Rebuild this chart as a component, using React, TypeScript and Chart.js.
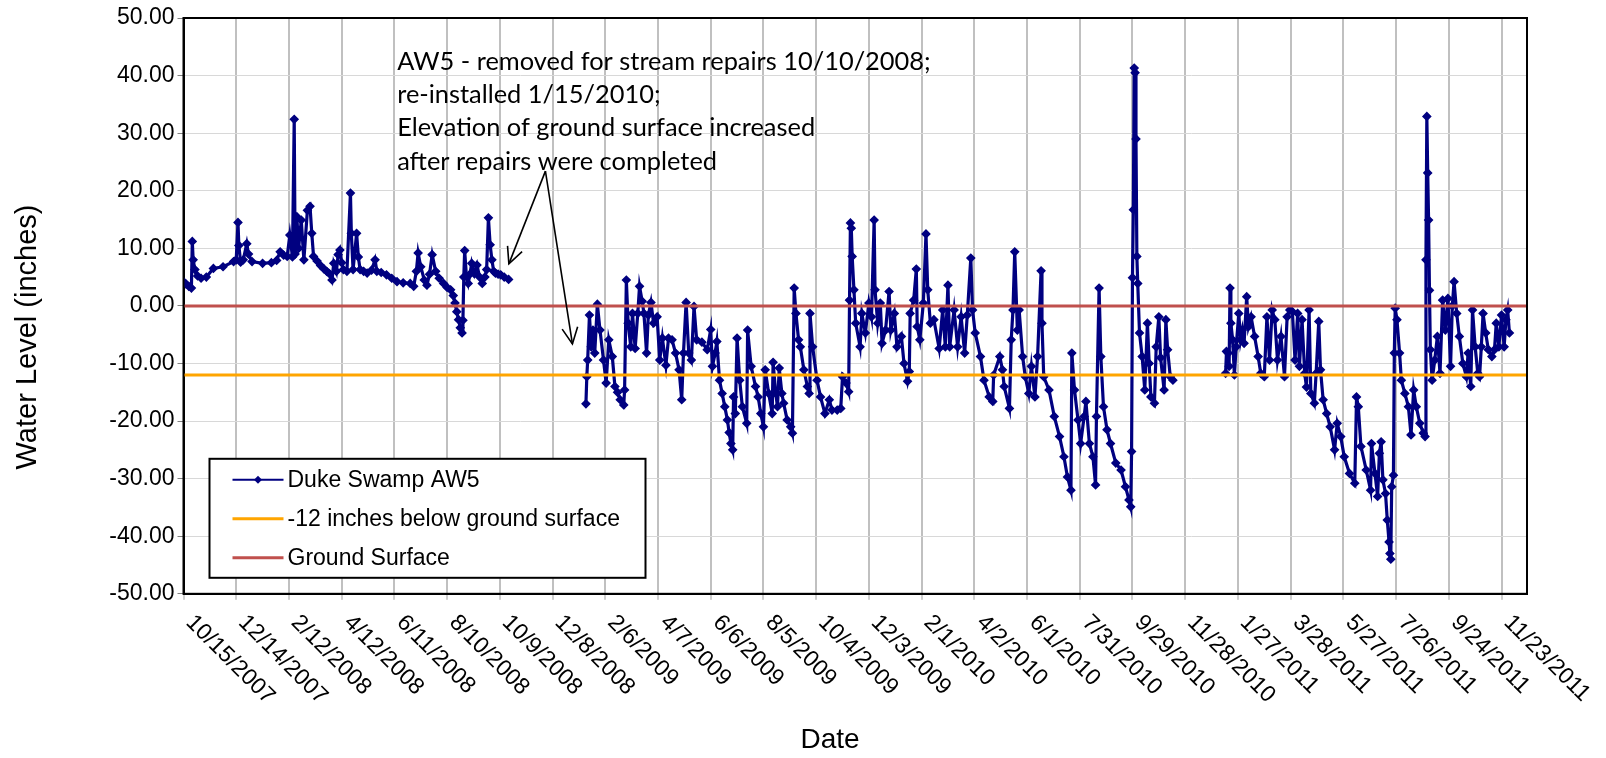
import React, { useEffect, useRef } from 'react';
import { Chart, registerables } from 'chart.js';

Chart.register(...registerables);

// x values are days since 10/15/2007
const xTickDays = [0, 60, 120, 180, 240, 300, 360, 420, 480, 540, 600, 660, 720, 780, 840, 900, 960, 1020, 1080, 1140, 1200, 1260, 1320, 1380, 1440, 1500];
const xTickLabels = [
  '10/15/2007', '12/14/2007', '2/12/2008', '4/12/2008', '6/11/2008', '8/10/2008', '10/9/2008', '12/8/2008',
  '2/6/2009', '4/7/2009', '6/6/2009', '8/5/2009', '10/4/2009', '12/3/2009', '2/1/2010', '4/2/2010', '6/1/2010',
  '7/31/2010', '9/29/2010', '11/28/2010', '1/27/2011', '3/28/2011', '5/27/2011', '7/26/2011', '9/24/2011', '11/23/2011',
];
const xMinDay = 0;
const xMaxDay = 1529;

// Duke Swamp AW5 readings: [day, inches]
const aw5Period2007 = [
  [0, 4.2], [3, 3.8], [6, 3.4], [9, 3.1], [10, 11.2], [11, 8.0], [13, 6.3], [16, 5.2], [20, 4.8], [26, 5.0],
  [34, 6.5], [45, 6.8], [57, 7.7], [60, 8.0], [62, 14.5], [63, 10.5], [65, 7.6], [68, 8.0], [72, 10.8], [74, 9.0],
  [78, 7.7], [90, 7.4], [100, 7.5], [106, 7.9], [110, 9.4], [114, 8.8], [118, 8.6], [121, 12.3], [124, 8.5], [126, 32.4],
  [127, 9.0], [129, 15.5], [131, 10.0], [134, 14.9], [137, 8.0], [141, 16.6], [144, 17.3], [146, 12.6], [148, 8.6], [152, 7.8],
  [156, 7.0], [160, 6.4], [163, 6.0], [166, 5.6], [169, 4.5], [171, 7.4], [174, 6.0], [176, 8.9], [178, 9.7], [180, 7.5],
  [182, 6.3], [186, 6.0], [190, 19.6], [191, 12.6], [193, 6.3], [197, 12.6], [199, 8.5], [201, 6.3], [205, 6.0], [209, 5.7],
  [214, 6.2], [218, 8.0], [220, 6.0], [225, 5.8], [231, 5.4], [237, 4.8], [243, 4.2], [250, 4.0], [258, 3.9], [262, 3.4],
  [265, 6.0], [267, 9.2], [270, 6.8], [274, 4.5], [277, 3.6], [280, 5.5], [283, 8.9], [287, 6.0], [291, 4.8], [296, 3.9],
  [300, 3.2], [304, 2.8], [307, 1.8], [309, 0.5], [311, -1.0], [313, -2.4], [315, -3.8], [317, -4.7], [318, -2.5], [319, 5.0],
  [320, 9.6], [322, 5.1], [324, 3.9], [326, 5.5], [328, 7.4], [331, 5.6], [334, 7.1], [337, 5.0], [340, 3.9], [343, 5.0],
  [345, 6.3], [347, 15.3], [349, 10.6], [351, 8.0], [353, 6.0], [355, 5.7], [358, 5.5], [361, 5.4], [365, 5.0], [370, 4.6],
];

const aw5Period2009 = [
  [458, -17.0], [459, -12.3], [460, -9.4], [462, -1.6], [464, -7.1], [466, -4.2], [468, -8.2], [471, 0.3], [474, -4.2], [478, -9.4],
  [481, -13.4], [484, -5.9], [488, -8.8], [491, -14.0], [494, -15.0], [497, -16.3], [501, -17.2], [502, -14.6], [504, 4.5], [506, -3.0],
  [509, -7.1], [511, -1.3], [514, -7.4], [517, -1.3], [519, 3.4], [522, 0.8], [524, -1.3], [527, -8.2], [529, -1.6], [532, 0.6],
  [535, -3.0], [539, -1.9], [542, -9.4], [545, -5.6], [549, -10.3], [552, -5.6], [556, -5.9], [560, -8.2], [564, -11.1], [567, -16.3],
  [569, -8.2], [572, 0.6], [575, -8.2], [578, -9.4], [581, -0.1], [584, -5.9], [590, -6.3], [596, -7.6], [600, -4.1], [602, -10.5],
  [605, -8.2], [607, -6.2], [610, -12.9], [613, -15.2], [616, -17.5], [619, -19.8], [621, -22.0], [623, -23.9], [625, -25.0], [626, -15.8],
  [628, -18.7], [630, -5.6], [633, -12.9], [636, -17.5], [641, -20.4], [642, -4.2], [646, -10.5], [651, -14.0], [654, -15.8], [657, -18.7],
  [660, -21.0], [662, -11.1], [666, -15.2], [670, -18.7], [671, -9.8], [674, -15.2], [676, -17.5], [678, -10.8], [681, -15.2], [683, -16.9],
  [687, -19.8], [691, -21.0], [693, -22.1], [695, 3.1], [697, -1.3], [700, -5.9], [702, -7.1], [706, -11.1], [710, -14.0], [712, -15.2],
  [713, -1.3], [716, -7.1], [721, -12.9], [725, -15.8], [730, -18.7], [735, -16.3], [738, -18.1], [744, -18.1], [748, -17.8], [750, -12.3],
  [754, -13.4], [757, -14.9], [758, 1.0], [759, 14.4], [760, 13.5], [761, 8.6], [763, 2.8], [765, -3.0], [770, -7.1], [772, -1.3],
  [776, -4.7], [780, 0.5], [783, -1.9], [786, 14.9], [787, 2.8], [790, -3.0], [793, 0.5], [795, -6.5], [799, -4.2], [803, 2.5],
  [805, -4.2], [809, -1.3], [812, -7.1], [817, -5.3], [820, -10.0], [824, -13.1], [826, -11.4], [827, -1.3], [831, 1.0], [834, 6.4],
  [835, -3.6], [838, -5.9], [842, 0.5], [845, 12.5], [847, 2.8], [850, -3.0], [854, -2.4], [860, -7.4], [864, -0.7], [867, -7.1],
  [870, 3.6], [872, -7.1], [877, -0.7], [881, -7.1], [885, -1.9], [889, -8.2], [892, -1.6], [896, 8.3], [898, -0.7], [901, -4.7],
  [907, -8.8], [911, -12.9], [917, -15.8], [921, -16.6], [922, -12.0], [929, -8.8], [932, -11.1], [934, -14.0], [940, -17.8], [942, -5.9],
  [944, -0.7], [946, 9.4], [949, -4.2], [951, -0.7], [955, -8.8], [958, -12.3], [962, -15.2], [965, -10.5], [969, -15.8], [972, -8.8],
  [976, 6.1], [977, -3.0], [979, -12.3], [985, -14.6], [991, -19.2], [997, -22.7], [1002, -26.2], [1006, -29.7], [1010, -32.0], [1011, -8.2],
  [1014, -14.6], [1018, -19.8], [1021, -23.9], [1025, -19.2], [1027, -16.6], [1031, -23.9], [1035, -26.2], [1038, -31.1], [1039, -19.2], [1042, 3.1],
  [1044, -8.8], [1047, -17.5], [1051, -21.5], [1055, -23.9], [1061, -27.3], [1067, -28.5], [1072, -31.4], [1076, -33.7], [1078, -34.9], [1079, -25.3],
  [1080, 4.9], [1081, 16.7], [1082, 41.3], [1083, 40.5], [1084, 29.0], [1085, 8.6], [1086, 3.9], [1088, -4.7], [1091, -8.8], [1094, -14.6],
  [1097, -3.0], [1099, -10.0], [1101, -15.8], [1105, -16.9], [1107, -7.1], [1110, -1.9], [1112, -9.0], [1116, -14.6], [1118, -2.4], [1120, -7.6],
  [1123, -12.3], [1126, -12.9],
];

const aw5Period2011 = [
  [1186, -11.7], [1187, -7.9], [1189, -8.2], [1190, -10.5], [1191, 3.1], [1192, -3.0], [1194, -5.9], [1196, -12.0], [1198, -7.1], [1201, -1.3],
  [1203, -5.9], [1205, -4.2], [1207, -6.5], [1210, 1.6], [1212, -3.6], [1215, -1.9], [1219, -5.3], [1223, -8.8], [1226, -11.7], [1230, -12.3],
  [1233, -1.9], [1236, -9.4], [1239, -0.7], [1242, -2.4], [1245, -9.4], [1249, -5.3], [1253, -12.3], [1256, -1.9], [1259, -0.7], [1262, -1.0],
  [1265, -9.4], [1268, -1.3], [1270, -10.5], [1273, -2.4], [1276, -11.7], [1278, -14.1], [1281, -0.7], [1283, -15.2], [1287, -16.9], [1289, -11.7],
  [1292, -2.7], [1294, -11.1], [1297, -16.3], [1301, -18.7], [1305, -21.0], [1310, -25.0], [1313, -20.4], [1317, -22.7], [1321, -26.2], [1327, -29.1],
  [1333, -30.8], [1335, -15.8], [1337, -17.5], [1340, -24.4], [1346, -28.5], [1351, -32.0], [1352, -23.9], [1356, -29.1], [1359, -33.1], [1361, -25.6],
  [1363, -23.6], [1365, -30.2], [1368, -32.6], [1370, -37.2], [1372, -41.0], [1373, -43.0], [1374, -44.0], [1375, -31.4], [1377, -29.4], [1378, -8.2],
  [1379, -0.4], [1381, -2.4], [1384, -8.2], [1386, -12.9], [1390, -15.2], [1394, -17.5], [1397, -22.4], [1400, -14.6], [1403, -17.5], [1407, -20.4],
  [1411, -22.1], [1413, -22.7], [1414, 8.0], [1415, 32.9], [1416, 23.1], [1417, 14.9], [1418, 2.7], [1419, -7.6], [1421, -12.9], [1424, -9.4],
  [1427, -5.3], [1430, -11.7], [1433, 1.0], [1436, -4.2], [1439, 1.3], [1442, -10.5], [1444, 0.0], [1446, 4.2], [1449, -1.3], [1452, -5.3],
  [1456, -10.0], [1460, -12.3], [1462, -8.2], [1465, -14.0], [1467, -0.7], [1470, -7.1], [1473, -11.7], [1475, -12.3], [1477, -7.1], [1479, -1.3],
  [1482, -4.7], [1485, -7.6], [1489, -8.8], [1492, -7.6], [1494, -3.0], [1497, -7.1], [1500, -1.6], [1503, -7.1], [1505, -2.4], [1507, -0.7],
  [1509, -4.7],
];

const belowSurfaceLevel = -12;
const groundSurfaceLevel = 0;

const seriesLabels = ['Duke Swamp AW5', '-12 inches below ground surface', 'Ground Surface'];
const yTickMin = -50;
const yTickMax = 50;
const yTickStep = 10;

const annotationLines = [
  'AW5 - removed for stream repairs 10/10/2008;',
  're-installed 1/15/2010;',
  'Elevation of ground surface increased',
  'after repairs were completed',
];
// annotation anchors in data coordinates [day, inches]
const annotationTextAnchor = [243.2, 41.0];
const arrowStart = [411.9, 23.4];
const arrowTips = [[370.3, 7.3], [442.6, -6.6]];

const BLUE = '#000080';
const ORANGE = '#FFA500';
const RED = '#C0504D';
const AXIS_FONT = '"Liberation Sans", Arial, sans-serif';

function toPoints(pairs: number[][]) {
  return pairs.map(([x, y]) => ({ x, y }));
}

function drawArrow(ctx: CanvasRenderingContext2D, x0: number, y0: number, x1: number, y1: number) {
  ctx.beginPath();
  ctx.moveTo(x0, y0);
  ctx.lineTo(x1, y1);
  ctx.stroke();
  const ang = Math.atan2(y0 - y1, x0 - x1);
  const len = 18;
  const spread = 0.45;
  ctx.beginPath();
  ctx.moveTo(x1 + len * Math.cos(ang - spread), y1 + len * Math.sin(ang - spread));
  ctx.lineTo(x1, y1);
  ctx.lineTo(x1 + len * Math.cos(ang + spread), y1 + len * Math.sin(ang + spread));
  ctx.stroke();
}

const overlayPlugin = {
  id: 'overlay',
  afterDatasetsDraw(chart: any) {
    const { ctx, chartArea: a } = chart;
    ctx.save();

    // plot area border
    ctx.strokeStyle = '#000';
    ctx.lineWidth = 2;
    ctx.strokeRect(a.left, a.top, a.right - a.left, a.bottom - a.top);

    // legend
    const lx = a.left + 26;
    const ly = a.bottom - 135;
    const lw = 436;
    const lh = 119;
    ctx.fillStyle = '#fff';
    ctx.fillRect(lx, ly, lw, lh);
    ctx.strokeStyle = '#000';
    ctx.lineWidth = 2;
    ctx.strokeRect(lx, ly, lw, lh);
    ctx.font = `23px ${AXIS_FONT}`;
    ctx.textAlign = 'left';
    ctx.textBaseline = 'middle';
    [0, 1, 2].forEach((di, row) => {
      const ds = chart.data.datasets[di];
      const cy = ly + 21 + row * 39;
      ctx.strokeStyle = ds.borderColor;
      ctx.lineWidth = di === 0 ? 2 : 3;
      ctx.beginPath();
      ctx.moveTo(lx + 23, cy);
      ctx.lineTo(lx + 74, cy);
      ctx.stroke();
      if (di === 0) {
        ctx.fillStyle = ds.borderColor;
        ctx.beginPath();
        ctx.moveTo(lx + 48.5, cy - 4);
        ctx.lineTo(lx + 52.5, cy);
        ctx.lineTo(lx + 48.5, cy + 4);
        ctx.lineTo(lx + 44.5, cy);
        ctx.closePath();
        ctx.fill();
      }
      ctx.fillStyle = '#000';
      ctx.fillText(ds.label, lx + 78, cy + 1);
    });
    ctx.restore();
  },
  afterDraw(chart: any) {
    const { ctx, chartArea: a, scales } = chart;
    const xs = scales.x;
    const ys = scales.y;
    ctx.save();

    // rotated x tick labels
    ctx.font = `23px ${AXIS_FONT}`;
    ctx.fillStyle = '#000';
    ctx.textAlign = 'left';
    ctx.textBaseline = 'top';
    xTickDays.forEach((d, i) => {
      const px = xs.getPixelForValue(d);
      ctx.save();
      ctx.translate(px + 14, a.bottom + 17);
      ctx.rotate(Math.PI / 4);
      ctx.fillText(xTickLabels[i], 0, 0);
      ctx.restore();
    });

    // axis titles
    ctx.font = `28px ${AXIS_FONT}`;
    ctx.textAlign = 'center';
    ctx.textBaseline = 'middle';
    ctx.fillText('Date', 830, 740);
    ctx.font = `29px ${AXIS_FONT}`;
    ctx.save();
    ctx.translate(28, 337);
    ctx.rotate(-Math.PI / 2);
    ctx.fillText('Water Level (inches)', 0, 0);
    ctx.restore();

    // annotation
    ctx.font = '25.4px Lato, "Open Sans", sans-serif';
    ctx.textAlign = 'left';
    ctx.textBaseline = 'alphabetic';
    const tx = xs.getPixelForValue(annotationTextAnchor[0]);
    const ty = ys.getPixelForValue(annotationTextAnchor[1]);
    annotationLines.forEach((line, i) => {
      ctx.fillText(line, tx, ty + i * 33.3);
    });
    ctx.strokeStyle = '#000';
    ctx.lineWidth = 1.6;
    const sx = xs.getPixelForValue(arrowStart[0]);
    const sy = ys.getPixelForValue(arrowStart[1]);
    arrowTips.forEach(([d, v]) => {
      drawArrow(ctx, sx, sy, xs.getPixelForValue(d), ys.getPixelForValue(v));
    });
    ctx.restore();
  },
};

export default function App() {
  const canvasRef = useRef<HTMLCanvasElement | null>(null);

  useEffect(() => {
    if (!canvasRef.current) return;
    const aw5Data = [
      ...toPoints(aw5Period2007),
      { x: 414, y: null },
      ...toPoints(aw5Period2009),
      { x: 1156, y: null },
      ...toPoints(aw5Period2011),
    ];
    const chart = new Chart(canvasRef.current, {
      type: 'line',
      data: {
        datasets: [
          {
            label: seriesLabels[0],
            data: aw5Data as any,
            borderColor: BLUE,
            backgroundColor: BLUE,
            borderWidth: 3.2,
            pointStyle: 'rectRot',
            pointRadius: 3.8,
            pointBorderWidth: 1.5,
            pointBackgroundColor: BLUE,
            pointBorderColor: BLUE,
            spanGaps: false,
            tension: 0,
            order: 3,
          },
          {
            label: seriesLabels[1],
            data: [
              { x: xMinDay, y: belowSurfaceLevel },
              { x: xMaxDay, y: belowSurfaceLevel },
            ],
            borderColor: ORANGE,
            backgroundColor: ORANGE,
            borderWidth: 3,
            pointRadius: 0,
            order: 1,
          },
          {
            label: seriesLabels[2],
            data: [
              { x: xMinDay, y: groundSurfaceLevel },
              { x: xMaxDay, y: groundSurfaceLevel },
            ],
            borderColor: RED,
            backgroundColor: RED,
            borderWidth: 3,
            pointRadius: 0,
            order: 0,
          },
        ],
      },
      options: {
        responsive: false,
        animation: false,
        events: [],
        layout: { padding: { top: 18, right: 79, left: 0, bottom: 0 } },
        plugins: {
          legend: { display: false },
          tooltip: { enabled: false },
          title: { display: false },
        },
        scales: {
          x: {
            type: 'linear',
            min: xMinDay,
            max: xMaxDay,
            afterBuildTicks: (scale: any) => {
              scale.ticks = xTickDays.map((v) => ({ value: v }));
            },
            afterFit: (scale: any) => {
              scale.height = 164.2;
            },
            ticks: { display: false },
            grid: {
              color: '#C0C0C0',
              lineWidth: 2,
              drawTicks: true,
              tickLength: 6,
              tickColor: '#A0A0A0',
              tickWidth: 1,
            },
            border: { display: true, color: '#000', width: 2 },
          },
          y: {
            type: 'linear',
            min: yTickMin,
            max: yTickMax,
            ticks: {
              stepSize: yTickStep,
              color: '#000',
              padding: 3,
              font: { family: AXIS_FONT, size: 23 },
              callback: (v: any) => Number(v).toFixed(2),
            },
            afterFit: (scale: any) => {
              scale.width = 183.5;
            },
            grid: {
              color: '#D8D8D8',
              lineWidth: 1,
              borderDash: [2, 2],
              drawTicks: true,
              tickLength: 6,
              tickColor: '#808080',
              tickWidth: 1,
              tickBorderDash: [],
            },
            border: { display: true, color: '#000', width: 2 },
          },
        },
      },
      plugins: [overlayPlugin],
    });
    return () => chart.destroy();
  }, []);

  return (
    <div style={{ position: 'absolute', left: 0, top: 0, width: 1606, height: 758, background: '#fff' }}>
      <canvas ref={canvasRef} width={1606} height={758} style={{ display: 'block' }} />
    </div>
  );
}
